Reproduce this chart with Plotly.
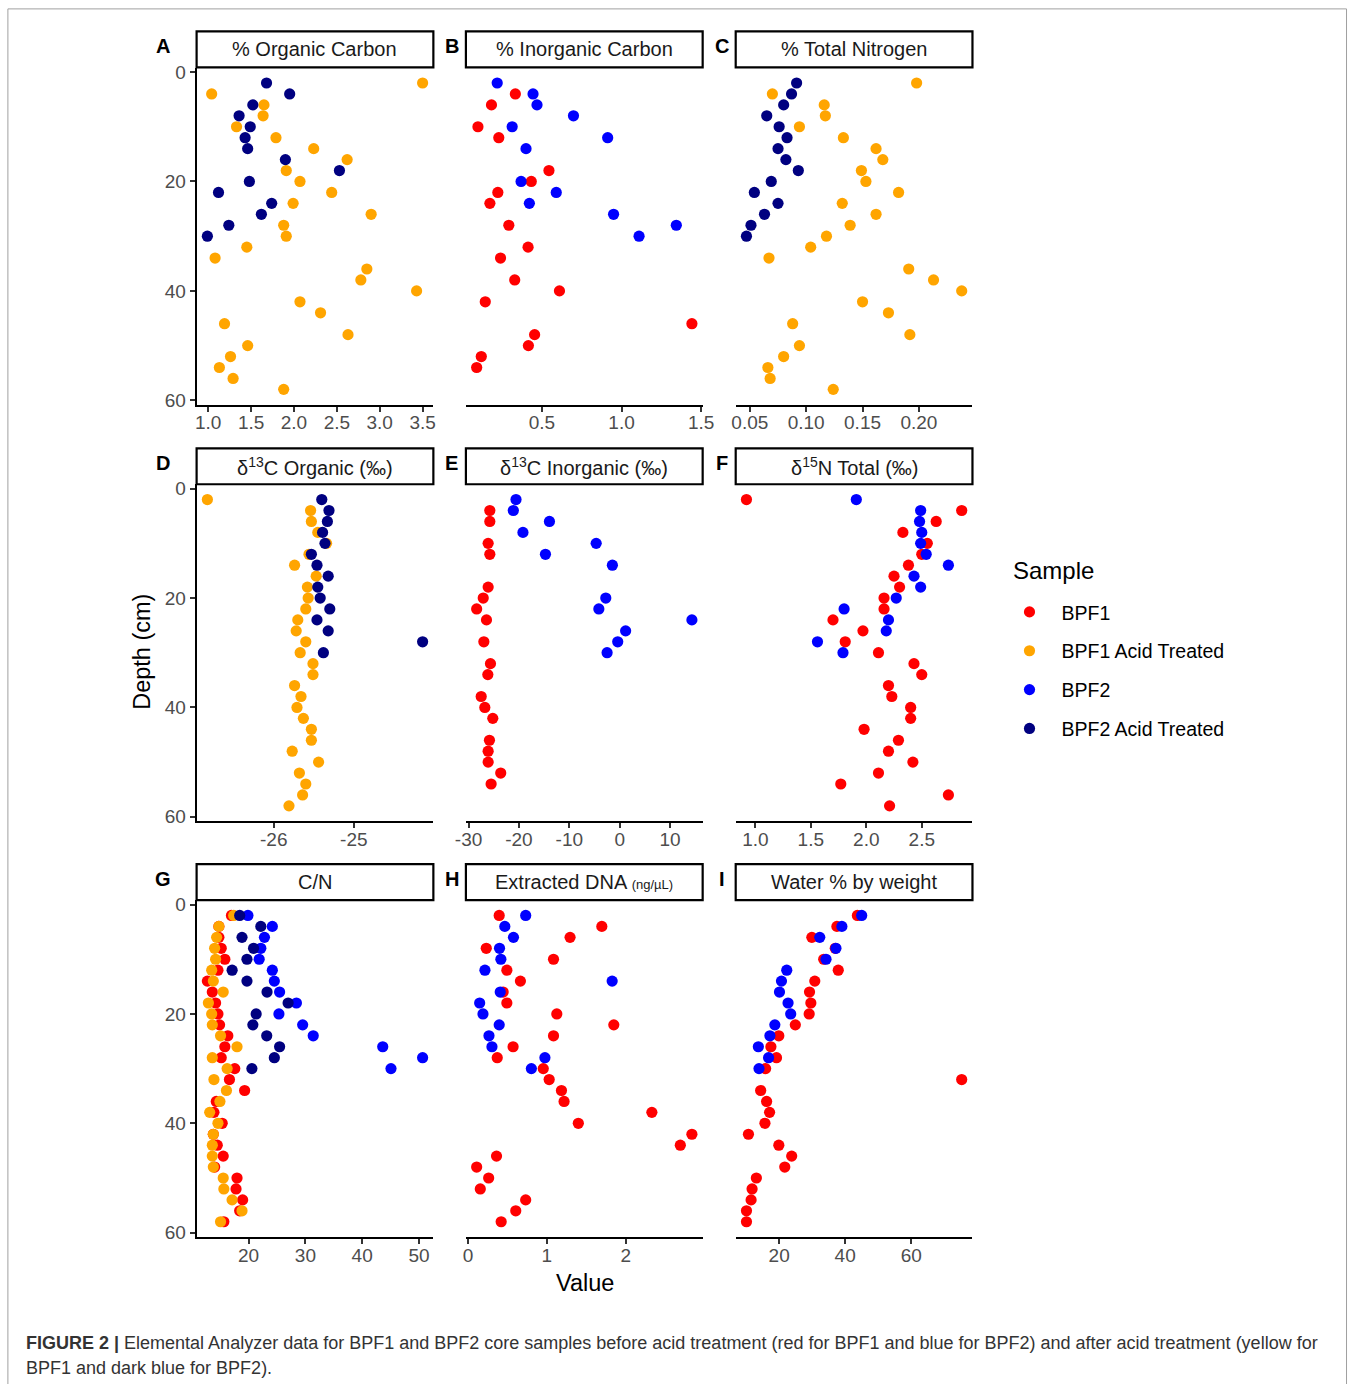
import plotly.graph_objects as go

# ---------------- data ----------------
depth_bpf1 = [2, 4, 6, 8, 10, 12, 14, 16, 18, 20, 22, 24, 26, 28, 30,
              32, 34, 36, 38, 40, 42, 44, 46, 48, 50, 52, 54, 56, 58]
depth_bpf2 = [2, 4, 6, 8, 10, 12, 14, 16, 18, 20, 22, 24, 26, 28, 30]

samples = ["BPF1", "BPF1 Acid Treated", "BPF2", "BPF2 Acid Treated"]
sample_colors = ["#FF0000", "#FFA500", "#0000FF", "#000080"]

# A: % Organic Carbon
oc_bpf1_acid = [3.50, 1.04, 1.65, 1.64, 1.33, 1.79, 2.23, 2.62, 1.91, 2.07, 2.44, 1.99, 2.90, 1.88, 1.91,
                1.45, 1.08, 2.85, 2.78, 3.43, 2.07, 2.31, 1.19, 2.63, 1.46, 1.26, 1.13, 1.29, 1.88]
oc_bpf2_acid = [1.68, 1.95, 1.52, 1.36, 1.49, 1.43, 1.46, 1.90, 2.53, 1.48, 1.12, 1.74, 1.62, 1.24, 0.99]

# B: % Inorganic Carbon
ic_bpf1 = [None, 0.333, 0.183, None, 0.098, 0.229, None, None, 0.544, 0.433, 0.223, 0.173, None, 0.292, None,
           0.413, 0.240, None, 0.329, 0.610, 0.144, None, 1.442, 0.454, 0.415, 0.119, 0.090, None, None]
ic_bpf2 = [0.219, 0.444, 0.469, 0.698, 0.313, 0.913, 0.400, None, None, 0.369, 0.590, 0.421, 0.950, 1.344, 1.110]

# C: % Total Nitrogen
tn_bpf1_acid = [0.198, 0.070, 0.116, 0.117, 0.094, 0.133, 0.162, 0.168, 0.149, 0.153, 0.182, 0.132, 0.162, 0.139, 0.118,
                0.104, 0.067, 0.191, 0.213, 0.238, 0.150, 0.173, 0.088, 0.192, 0.094, 0.080, 0.066, 0.068, 0.124]
tn_bpf2_acid = [0.0915, 0.087, 0.080, 0.065, 0.076, 0.083, 0.075, 0.082, 0.093, 0.069, 0.054, 0.075, 0.063, 0.051, 0.047]

# D: d13C Organic
d13corg_bpf1_acid = [-26.83, -25.54, -25.53, -25.45, -25.34, -25.56, -25.74, -25.47, -25.58, -25.57, -25.60, -25.70,
                     -25.72, -25.60, -25.67, -25.51, -25.51, -25.74, -25.66, -25.71, -25.63, -25.53, -25.53, -25.77,
                     -25.44, -25.68, -25.60, -25.64, -25.81]
d13corg_bpf2_acid = [-25.40, -25.31, -25.33, -25.39, -25.36, -25.53, -25.46, -25.32, -25.45, -25.42, -25.30, -25.46,
                     -25.32, -24.14, -25.38]

# E: d13C Inorganic
d13cinorg_bpf1 = [None, -25.79, -25.79, None, -26.12, -25.79, None, None, -26.12, -27.10, -28.40, -26.45, None, -26.97,
                  None, -25.66, -26.18, None, -27.50, -26.78, -25.20, None, -25.86, -26.12, -26.12, -23.62, -25.53,
                  None, None]
d13cinorg_bpf2 = [-20.59, -21.12, -13.95, -19.21, -4.67, -14.74, -1.45, None, None, -2.76, -4.14, 14.34, 1.18, -0.39,
                  -2.50]

# F: d15N Total
d15n_bpf1 = [0.92, 2.86, 2.63, 2.33, 2.55, 2.50, 2.38, 2.25, 2.30, 2.16, 2.16, 1.70, 1.97, 1.81, 2.11,
             2.43, 2.50, 2.20, 2.23, 2.40, 2.40, 1.98, 2.29, 2.20, 2.42, 2.11, 1.77, 2.74, 2.21]
d15n_bpf2 = [1.91, 2.49, 2.48, 2.50, 2.49, 2.54, 2.74, 2.43, 2.49, 2.27, 1.80, 2.20, 2.18, 1.56, 1.79]

# G: C/N
cn_bpf1 = [16.98, 14.77, 14.77, 15.18, 15.82, 14.60, 12.74, 13.61, 14.19, 14.60, 14.89, 16.34, 15.82, 15.18, 17.56,
           16.63, 19.30, 14.31, 13.90, 15.35, 13.79, 14.48, 15.53, 14.02, 17.96, 17.79, 18.95, 18.43, 15.64]
cn_bpf1_acid = [17.38, 14.77, 14.37, 14.02, 14.19, 13.50, 13.79, 15.53, 12.92, 13.50, 13.61, 15.06, 17.96, 13.61, 16.22,
                13.90, 16.10, 14.95, 13.15, 14.60, 13.79, 13.61, 13.61, 13.79, 15.53, 15.64, 17.09, 18.84, 15.06]
cn_bpf2 = [19.88, 24.18, 22.79, 22.15, 21.86, 24.18, 24.53, 25.46, 28.42, 25.34, 29.52, 31.38, 43.62, 50.64, 45.07]
cn_bpf2_acid = [18.43, 22.15, 18.84, 20.87, 19.71, 17.10, 19.71, 23.25, 26.96, 21.33, 20.75, 23.19, 25.46, 24.53, 20.58]

# H: Extracted DNA (ng/uL)
dna_bpf1 = [0.395, 1.697, 1.294, 0.231, 1.084, 0.492, 0.664, 0.445, 0.492, 1.126, 1.849, 1.084, 0.571, 0.370, 0.954,
            1.029, 1.185, 1.218, 2.332, 1.399, 2.840, 2.693, 0.361, 0.109, 0.261, 0.155, 0.731, 0.605, 0.420]
dna_bpf2 = [0.731, 0.466, 0.576, 0.399, 0.416, 0.214, 1.828, 0.408, 0.147, 0.189, 0.395, 0.265, 0.303, 0.975, 0.803]

# I: Water % by weight
water_bpf1 = [43.7, 37.5, 29.9, 37.0, 33.5, 37.9, 30.8, 29.2, 29.6, 29.1, 24.9, 19.9, 17.5, 19.2, 15.9,
              75.3, 14.4, 16.2, 17.1, 15.7, 10.7, 19.9, 23.8, 21.7, 13.1, 11.8, 11.5, 10.1, 10.1]
water_bpf2 = [45.0, 39.0, 32.3, 37.2, 34.2, 22.3, 20.7, 20.1, 22.7, 23.5, 18.7, 17.2, 13.7, 16.8, 13.9]

# panel titles, letters and tick labels
panel_titles = ["% Organic Carbon", "% Inorganic Carbon", "% Total Nitrogen",
                "δ<sup>13</sup>C Organic (‰)", "δ<sup>13</sup>C Inorganic (‰)", "δ<sup>15</sup>N Total (‰)",
                "C/N", "Extracted DNA <span style='font-size:13px'>(ng/µL)</span>", "Water % by weight"]
panel_letters = ["A", "B", "C", "D", "E", "F", "G", "H", "I"]
x_tick_vals = [[1.0, 1.5, 2.0, 2.5, 3.0, 3.5], [0.5, 1.0, 1.5], [0.05, 0.10, 0.15, 0.20],
               [-26, -25, -24], [-30, -20, -10, 0, 10], [1.0, 1.5, 2.0, 2.5],
               [20, 30, 40, 50], [0, 1, 2], [20, 40, 60]]
x_tick_text = [["1.0", "1.5", "2.0", "2.5", "3.0", "3.5"], ["0.5", "1.0", "1.5"], ["0.05", "0.10", "0.15", "0.20"],
               ["-26", "-25", "-24"], ["-30", "-20", "-10", "0", "10"], ["1.0", "1.5", "2.0", "2.5"],
               ["20", "30", "40", "50"], ["0", "1", "2"], ["20", "40", "60"]]
y_tick_vals = [0, 20, 40, 60]
y_tick_text = ["0", "20", "40", "60"]

# series per panel: (sample index, depth list, values)
panel_series = [
    [(1, depth_bpf1, oc_bpf1_acid), (3, depth_bpf2, oc_bpf2_acid)],
    [(0, depth_bpf1, ic_bpf1), (2, depth_bpf2, ic_bpf2)],
    [(1, depth_bpf1, tn_bpf1_acid), (3, depth_bpf2, tn_bpf2_acid)],
    [(1, depth_bpf1, d13corg_bpf1_acid), (3, depth_bpf2, d13corg_bpf2_acid)],
    [(0, depth_bpf1, d13cinorg_bpf1), (2, depth_bpf2, d13cinorg_bpf2)],
    [(0, depth_bpf1, d15n_bpf1), (2, depth_bpf2, d15n_bpf2)],
    [(0, depth_bpf1, cn_bpf1), (1, depth_bpf1, cn_bpf1_acid), (2, depth_bpf2, cn_bpf2), (3, depth_bpf2, cn_bpf2_acid)],
    [(0, depth_bpf1, dna_bpf1), (2, depth_bpf2, dna_bpf2)],
    [(0, depth_bpf1, water_bpf1), (2, depth_bpf2, water_bpf2)],
]

# ---------------- layout geometry ----------------
W, H = 1360, 1384
FONT = "Liberation Sans, Arial, Helvetica, sans-serif"
# mapping of target picture pixels to page pixels (compensates the photographed offset/scale)
AX, SX = 11.6, 0.982
AY, SY = 5.6, 0.9916


def fx(X):
    return ((X - AX) / SX) / W


def fy(Y):
    return 1 - ((Y - AY) / SY) / H


col_px = [(197, 433.5), (466, 702.5), (735.5, 972)]
row_px = [(67.3, 404.4), (484, 821), (900, 1237)]
strip_px = [(31, 67), (448, 484), (864, 900)]
letter_x = [163, 452, 722]


def padded(values, frac=0.05):
    v = [a for a in values if a is not None]
    lo, hi = min(v), max(v)
    p = (hi - lo) * frac
    return lo - p, hi + p


fig = go.Figure()
shown = set()
shapes = []
annotations = []

ylo, yhi = padded(depth_bpf1)

for i in range(9):
    r, c = divmod(i, 3)
    ax = "" if i == 0 else str(i + 1)
    allvals = []
    for s_idx, dep, vals in panel_series[i]:
        allvals += vals
        name = samples[s_idx]
        fig.add_trace(go.Scatter(
            x=vals, y=dep, mode="markers", name=name,
            legendgroup=name, legendrank=s_idx + 1,
            showlegend=name not in shown,
            marker=dict(color=sample_colors[s_idx], size=11.2, line=dict(width=0)),
            xaxis="x" + ax, yaxis="y" + ax,
        ))
        shown.add(name)
    xlo, xhi = padded(allvals)
    fig.update_layout(**{
        "xaxis" + ax: dict(
            domain=[fx(col_px[c][0]), fx(col_px[c][1])], anchor="y" + ax,
            range=[xlo, xhi], showgrid=False, zeroline=False,
            showline=True, linecolor="black", linewidth=2,
            ticks="outside", ticklen=5, tickwidth=1.5, tickcolor="#333333",
            ticklabelstandoff=-5,
            tickvals=x_tick_vals[i], ticktext=x_tick_text[i],
            tickfont=dict(size=19, color="#4D4D4D", family=FONT),
        ),
        "yaxis" + ax: dict(
            domain=[fy(row_px[r][1]), fy(row_px[r][0])], anchor="x" + ax,
            range=[yhi, ylo], showgrid=False, zeroline=False,
            showline=(c == 0), linecolor="black", linewidth=2,
            ticks="outside" if c == 0 else "", ticklen=5, tickwidth=1.5, tickcolor="#333333",
            showticklabels=(c == 0),
            tickvals=y_tick_vals, ticktext=y_tick_text,
            tickfont=dict(size=19, color="#4D4D4D", family=FONT),
        ),
    })
    # strip box
    shapes.append(dict(type="rect", xref="paper", yref="paper",
                       x0=fx(col_px[c][0]), x1=fx(col_px[c][1]),
                       y0=fy(strip_px[r][1]), y1=fy(strip_px[r][0]),
                       line=dict(color="black", width=2.2), fillcolor="white"))
    annotations.append(dict(xref="paper", yref="paper",
                            x=fx((col_px[c][0] + col_px[c][1]) / 2),
                            y=fy((strip_px[r][0] + strip_px[r][1]) / 2),
                            text=panel_titles[i], showarrow=False,
                            xanchor="center", yanchor="middle",
                            font=dict(size=20, color="#1A1A1A", family=FONT)))
    annotations.append(dict(xref="paper", yref="paper",
                            x=fx(letter_x[c]), y=fy((strip_px[r][0] + strip_px[r][1]) / 2 - 3),
                            text="<b>" + panel_letters[i] + "</b>", showarrow=False,
                            xanchor="center", yanchor="middle",
                            font=dict(size=20, color="black", family=FONT)))

# axis titles
annotations.append(dict(xref="paper", yref="paper", x=fx(143), y=fy(652),
                        text="Depth (cm)", showarrow=False, textangle=-90,
                        xanchor="center", yanchor="middle",
                        font=dict(size=23.5, color="black", family=FONT)))
annotations.append(dict(xref="paper", yref="paper", x=fx(585), y=fy(1283),
                        text="Value", showarrow=False,
                        xanchor="center", yanchor="middle",
                        font=dict(size=23.5, color="black", family=FONT)))

# legend title
annotations.append(dict(xref="paper", yref="paper", x=fx(1010), y=fy(570),
                        text="Sample", showarrow=False,
                        xanchor="left", yanchor="middle",
                        font=dict(size=24, color="black", family=FONT)))

# caption
annotations.append(dict(xref="paper", yref="paper", x=fx(25), y=fy(1343),
                        text="<b>FIGURE 2 |</b> Elemental Analyzer data for BPF1 and BPF2 core samples before acid "
                             "treatment (red for BPF1 and blue for BPF2) and after acid treatment (yellow for",
                        showarrow=False, xanchor="left", yanchor="middle",
                        font=dict(size=18, color="#333333", family=FONT)))
annotations.append(dict(xref="paper", yref="paper", x=fx(25), y=fy(1368),
                        text="BPF1 and dark blue for BPF2).",
                        showarrow=False, xanchor="left", yanchor="middle",
                        font=dict(size=18, color="#333333", family=FONT)))

# outer frame
shapes.append(dict(type="rect", xref="paper", yref="paper",
                   x0=fx(8.5), x1=min(fx(1355.5), 1358.5 / W), y0=-0.05, y1=fy(8.5),
                   line=dict(color="#A0A0A0", width=1), fillcolor="rgba(0,0,0,0)", layer="below"))

fig.update_layout(
    width=W, height=H,
    margin=dict(l=0, r=0, t=0, b=0),
    paper_bgcolor="white", plot_bgcolor="white",
    font=dict(family=FONT, color="black"),
    shapes=shapes, annotations=annotations,
    showlegend=True,
    legend=dict(
        x=fx(997), y=fy(592.5), xanchor="left", yanchor="top",
        font=dict(size=19.5, color="black", family=FONT),
        itemwidth=54, tracegroupgap=10.5, traceorder="grouped",
        bgcolor="rgba(0,0,0,0)", borderwidth=0,
    ),
)

fig.write_html("out.html", config={"displayModeBar": False},
               post_script="document.body.style.margin='0';document.body.style.overflow='hidden';")
